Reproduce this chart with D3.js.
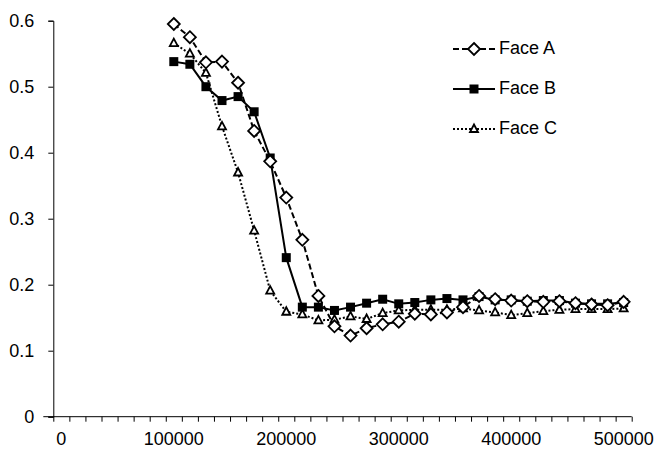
<!DOCTYPE html>
<html><head><meta charset="utf-8">
<script src="https://cdn.jsdelivr.net/npm/d3@7/dist/d3.min.js"></script>
<style>body{margin:0;background:#fff}svg{display:block}text{font-family:"Liberation Sans",Arial,sans-serif}</style>
</head><body>
<script>
const categories = [0, 14286, 28571, 42857, 57143, 71429, 85714, 100000, 114286, 128571, 142857, 157143, 171429, 185714, 200000, 214286, 228571, 242857, 257143, 271429, 285714, 300000, 314286, 328571, 342857, 357143, 371429, 385714, 400000, 414286, 428571, 442857, 457143, 471429, 485714, 500000];
const xLabels = ["0", "100000", "200000", "300000", "400000", "500000"];
const yTicks = [0, 0.1, 0.2, 0.3, 0.4, 0.5, 0.6];
const seriesNames = ["Face A", "Face B", "Face C"];
// values start at category 100000
const faceA = [0.595, 0.575, 0.537, 0.538, 0.506, 0.433, 0.387, 0.332, 0.268, 0.183, 0.137, 0.123, 0.134, 0.140, 0.144, 0.156, 0.155, 0.158, 0.166, 0.183, 0.178, 0.176, 0.175, 0.174, 0.175, 0.172, 0.170, 0.169, 0.174];
const faceB = [0.538, 0.534, 0.500, 0.479, 0.485, 0.462, 0.392, 0.241, 0.166, 0.166, 0.161, 0.166, 0.172, 0.178, 0.171, 0.173, 0.177, 0.179, 0.177, 0.182, 0.177, 0.177, 0.175, 0.176, 0.176, 0.172, 0.171, 0.171, 0.173];
const faceC = [0.566, 0.550, 0.521, 0.440, 0.370, 0.282, 0.191, 0.159, 0.155, 0.146, 0.147, 0.152, 0.148, 0.157, 0.161, 0.162, 0.162, 0.162, 0.164, 0.161, 0.158, 0.154, 0.157, 0.160, 0.162, 0.163, 0.163, 0.163, 0.164];
const dataCategories = categories.slice(7);

(function () {
const W = 656, H = 450;
const FS = 18;
const svg = d3.select("body").append("svg").attr("width", W).attr("height", H);
const mLeft = 53.3, mRight = 631.7, mTop = 20.7, mBottom = 416.7;

const x = d3.scaleBand().domain(categories).range([mLeft, mRight]).padding(0);
const xb = d3.scaleLinear().domain([0, categories.length]).range([mLeft, mRight]);
const y = d3.scaleLinear().domain([0, 0.6]).range([mBottom, mTop]);

// y axis
const yAxis = svg.append("g").attr("transform", `translate(${mLeft},0)`)
  .call(d3.axisLeft(y).tickValues(yTicks).tickSize(5).tickPadding(14).tickFormat(d => String(+d.toFixed(1))));
yAxis.select(".domain").attr("stroke", "#000").attr("stroke-width", 1);
yAxis.selectAll(".tick line").attr("stroke", "#000");
yAxis.selectAll("text").attr("font-size", FS).attr("fill", "#000");

// x axis ticks at category boundaries
const xAxisT = svg.append("g").attr("transform", `translate(0,${mBottom})`)
  .call(d3.axisBottom(xb).tickValues(d3.range(categories.length + 1)).tickSize(5).tickFormat(""));
xAxisT.select(".domain").attr("stroke", "#000").attr("d", `M${mLeft - 10},0H${mRight}`);
xAxisT.selectAll(".tick line").attr("stroke", "#000");
// x labels centered in category slots
const labelCats = categories.filter((c, i) => i % 7 === 0);
const xAxisL = svg.append("g").attr("transform", `translate(0,${mBottom})`)
  .call(d3.axisBottom(x).tickValues(labelCats).tickSize(0).tickPadding(16).tickFormat((d, i) => xLabels[i]));
xAxisL.select(".domain").remove();
xAxisL.selectAll("text").attr("font-size", FS).attr("fill", "#000");

const cx = c => x(c) + x.bandwidth() / 2;
const series = [
  {name: seriesNames[0], vals: faceA, dash: "6,3", marker: "diamond"},
  {name: seriesNames[1], vals: faceB, dash: null, marker: "square"},
  {name: seriesNames[2], vals: faceC, dash: "2,2", marker: "triangle"}
];
const line = d3.line().x((d, i) => cx(dataCategories[i])).y(d => y(d));

function drawMarker(g, type, px, py) {
  if (type === "diamond") {
    g.append("path").attr("d", `M${px},${py - 6}L${px + 6},${py}L${px},${py + 6}L${px - 6},${py}Z`)
      .attr("fill", "#fff").attr("stroke", "#000").attr("stroke-width", 1.8);
  } else if (type === "square") {
    g.append("rect").attr("x", px - 4.5).attr("y", py - 4.5).attr("width", 9).attr("height", 9).attr("fill", "#000");
  } else {
    g.append("path").attr("d", `M${px},${py - 4.5}L${px + 4},${py + 3}L${px - 4},${py + 3}Z`)
      .attr("fill", "#fff").attr("stroke", "#000").attr("stroke-width", 1.8);
  }
}

// draw order: C, B, A
[2, 1, 0].forEach(k => {
  const s = series[k];
  const g = svg.append("g");
  g.append("path").datum(s.vals).attr("d", line).attr("fill", "none").attr("stroke", "#000")
    .attr("stroke-width", 2).attr("stroke-dasharray", s.dash);
  s.vals.forEach((v, i) => drawMarker(g, s.marker, cx(dataCategories[i]), y(v)));
});

// legend
const legY = [49, 89, 129];
series.forEach((s, k) => {
  const g = svg.append("g");
  g.append("line").attr("x1", 453).attr("x2", 495).attr("y1", legY[k]).attr("y2", legY[k])
    .attr("stroke", "#000").attr("stroke-width", 2).attr("stroke-dasharray", s.dash);
  drawMarker(g, s.marker, 474, legY[k]);
  g.append("text").attr("x", 499).attr("y", legY[k] - 1).attr("dy", "0.35em").attr("font-size", FS).attr("fill", "#000").text(s.name);
});
})();
</script>
</body></html>
